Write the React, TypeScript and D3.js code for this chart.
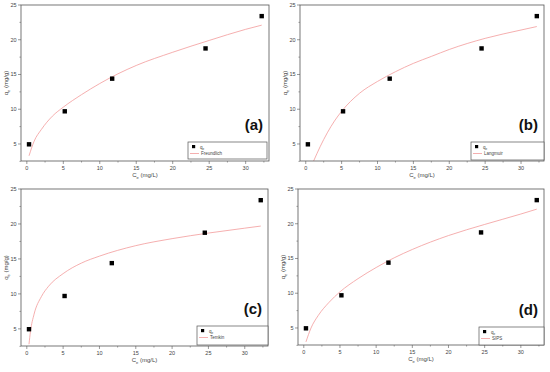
import * as d3 from 'd3';
import React from 'react';

// measured points (Ce, qe)
const ceData = [0.3, 5.2, 11.7, 24.5, 32.2];
const qeData = [4.95, 9.7, 14.4, 18.75, 23.4];

// fitted curves
const freundlichC = [0.3, 1, 2, 3.5, 5, 7.5, 10, 12.5, 15, 20, 25, 30, 32.2];
const freundlichQ = [3.3, 5.4, 7.1, 9.0, 10.3, 12.1, 13.7, 15.1, 16.3, 18.2, 19.9, 21.5, 22.1];
const langmuirC = [1.1, 2, 3, 4, 5, 7.5, 10, 12.5, 15, 17.5, 20, 25, 30, 32.2];
const langmuirQ = [2.55, 4.6, 6.6, 8.3, 9.7, 12.3, 14.0, 15.4, 16.6, 17.6, 18.6, 20.2, 21.4, 21.9];
const temkinC = [0.3, 0.5, 1, 2, 3, 5, 7.5, 10, 15, 20, 25, 30, 32.2];
const temkinQ = [2.8, 4.6, 7.1, 9.6, 11.1, 12.9, 14.4, 15.4, 16.9, 17.9, 18.7, 19.4, 19.7];
const sipsC = [0.3, 1, 2, 3.5, 5, 7.5, 10, 12.5, 15, 20, 25, 30, 32.2];
const sipsQ = [3.0, 5.0, 6.8, 8.7, 10.2, 12.1, 13.7, 15.1, 16.3, 18.3, 19.9, 21.4, 22.1];

const xTicks = [0, 5, 10, 15, 20, 25, 30];
const yTicks = [5, 10, 15, 20, 25];

const panels = [
  { tag: '(a)', name: 'Freundlich', c: freundlichC, q: freundlichQ, box: [21, 5, 269, 161], leg: [188, 142, 267, 159] },
  { tag: '(b)', name: 'Langmuir', c: langmuirC, q: langmuirQ, box: [300, 5, 544, 161], leg: [471, 142, 544, 160] },
  { tag: '(c)', name: 'Temkin', c: temkinC, q: temkinQ, box: [21, 189, 268, 346], leg: [197, 326, 268, 345] },
  { tag: '(d)', name: 'SIPS', c: sipsC, q: sipsQ, box: [298, 189, 544, 345], leg: [479, 327, 544, 345] },
];

const axisCol = '#555';
const textCol = '#444';
const fitCol = '#f39a9a';
const font = 'Arial, "Liberation Sans", sans-serif';

function Panel({ p }: { p: any }) {
  const [l, t, r, b] = p.box;
  const x = d3.scaleLinear().domain([-0.8, 33.2]).range([l, r]);
  const y = d3.scaleLinear().domain([2.55, 25]).range([b, t]);
  const line = d3.line<number>()
    .x((d) => x(d))
    .y((d, i) => y(p.q[i]))
    .curve(d3.curveMonotoneX);
  const xMinor = d3.range(0, 33, 2.5).filter((v) => v % 5 !== 0);
  const yMinor = d3.range(2.5, 25, 2.5).filter((v) => v % 5 !== 0);
  const [ll, lt, lr, lb] = p.leg;
  const cx = (l + r) / 2;
  const cy = (t + b) / 2;
  return (
    <g fontFamily={font}>
      <defs>
        <clipPath id={'clip' + p.tag[1]}>
          <rect x={l} y={t} width={r - l} height={b - t} />
        </clipPath>
      </defs>
      <path d={line(p.c) || ''} fill="none" stroke={fitCol} strokeWidth={0.8} clipPath={`url(#clip${p.tag[1]})`} />
      {ceData.map((c, i) => (
        <rect key={i} x={x(c) - 2.2} y={y(qeData[i]) - 2.2} width={4.4} height={4.4} fill="#000" />
      ))}
      <rect x={l} y={t} width={r - l} height={b - t} fill="none" stroke={axisCol} strokeWidth={0.8} />
      {xTicks.map((v) => (
        <g key={v}>
          <line x1={x(v)} x2={x(v)} y1={b} y2={b + 3} stroke={axisCol} strokeWidth={0.6} />
          <text x={x(v)} y={b + 8.5} fontSize={5.5} textAnchor="middle" fill={textCol}>{v}</text>
        </g>
      ))}
      {xMinor.map((v) => (
        <line key={v} x1={x(v)} x2={x(v)} y1={b} y2={b + 1.6} stroke={axisCol} strokeWidth={0.5} />
      ))}
      {yTicks.map((v) => (
        <g key={v}>
          <line x1={l - 3} x2={l} y1={y(v)} y2={y(v)} stroke={axisCol} strokeWidth={0.6} />
          <text x={l - 4.5} y={y(v) + 2} fontSize={5.5} textAnchor="end" fill={textCol}>{v}</text>
        </g>
      ))}
      {yMinor.map((v) => (
        <line key={v} x1={l - 1.6} x2={l} y1={y(v)} y2={y(v)} stroke={axisCol} strokeWidth={0.5} />
      ))}
      <text x={cx} y={b + 16} fontSize={6} textAnchor="middle" fill={textCol}>
        C<tspan fontSize={4} dy={1.5}>e</tspan><tspan dy={-1.5}> (mg/L)</tspan>
      </text>
      <text transform={`translate(${l - 13},${cy}) rotate(-90)`} fontSize={6} textAnchor="middle" fill={textCol}>
        q<tspan fontSize={4} dy={1.5}>e</tspan><tspan dy={-1.5}> (mg/g)</tspan>
      </text>
      <text x={r - 6} y={p.leg[1] - 12} fontSize={15} fontWeight="bold" textAnchor="end" fill="#111">{p.tag}</text>
      <rect x={ll} y={lt} width={lr - ll} height={lb - lt} fill="#fff" stroke={axisCol} strokeWidth={0.7} />
      <rect x={ll + 4} y={lt + 3} width={3.2} height={3.2} fill="#000" />
      <text x={ll + 12} y={lt + 6.5} fontSize={4.5} fill={textCol}>
        q<tspan fontSize={3} dy={1}>e</tspan>
      </text>
      <line x1={ll + 2} x2={ll + 11} y1={lt + 11.5} y2={lt + 11.5} stroke={fitCol} strokeWidth={0.8} />
      <text x={ll + 13} y={lt + 13} fontSize={4.5} fill={textCol}>{p.name}</text>
    </g>
  );
}

export default function App() {
  return (
    <svg width={550} height={372} style={{ position: 'absolute', left: 0, top: 0, background: '#fff' }}>
      <rect width={550} height={372} fill="#fff" />
      {panels.map((p) => (
        <Panel key={p.tag} p={p} />
      ))}
    </svg>
  );
}
